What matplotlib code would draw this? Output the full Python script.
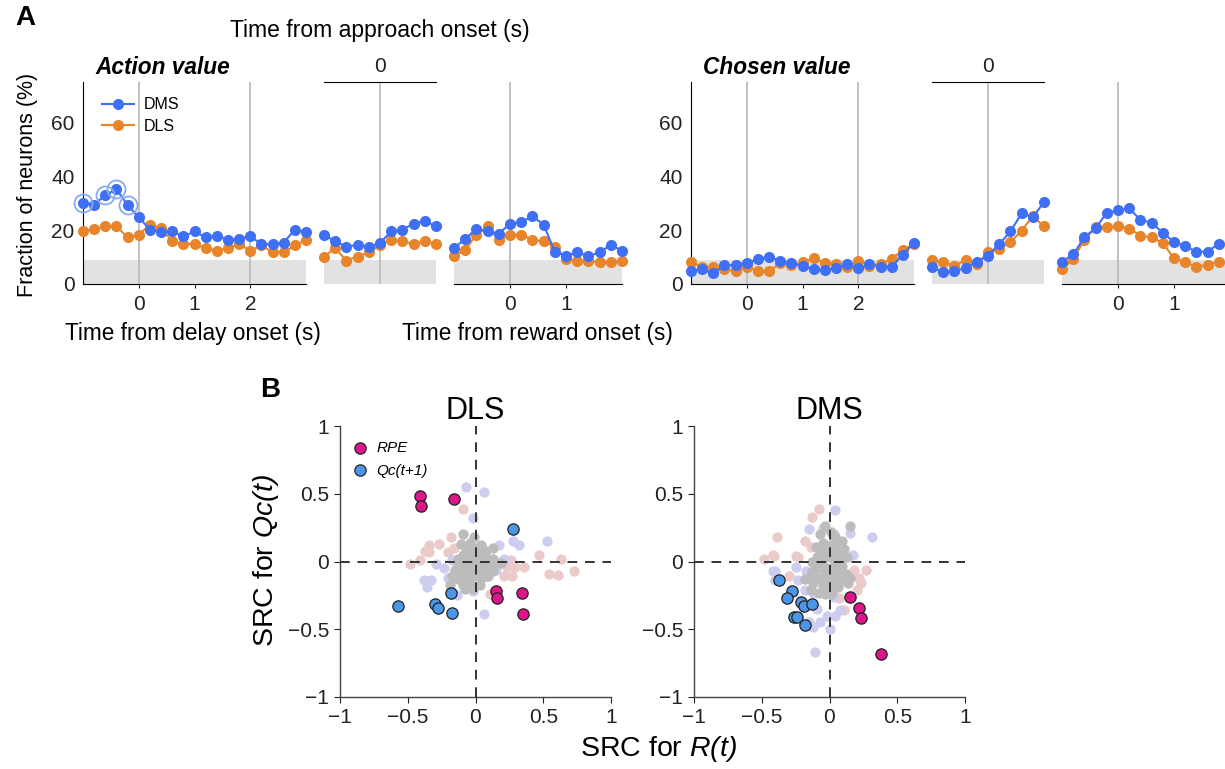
## Fraction of value-coding neurons (A) and SRC scatter (B)
import numpy as np
import matplotlib.pyplot as plt
from matplotlib.lines import Line2D

plt.rcParams['font.family'] = ['Liberation Sans', 'DejaVu Sans']
plt.rcParams['mathtext.fontset'] = 'custom'
plt.rcParams['mathtext.it'] = 'Liberation Sans:italic'
plt.rcParams['mathtext.rm'] = 'Liberation Sans:italic'
plt.rcParams['axes.unicode_minus'] = True

# ---------------- Panel A data (% of neurons) ----------------
t_delay = [-1.0, -0.8, -0.6, -0.4, -0.2, 0.0, 0.2, 0.4, 0.6, 0.8, 1.0,
           1.2, 1.4, 1.6, 1.8, 2.0, 2.2, 2.4, 2.6, 2.8, 3.0]
t_approach = [-1.0, -0.8, -0.6, -0.4, -0.2, 0.0, 0.2, 0.4, 0.6, 0.8, 1.0]
t_reward = [-1.0, -0.8, -0.6, -0.4, -0.2, 0.0, 0.2, 0.4, 0.6, 0.8, 1.0,
            1.2, 1.4, 1.6, 1.8, 2.0]

# Action value
av_delay_dms = [30.2, 29.5, 33.0, 35.2, 29.3, 24.8, 20.2, 19.2, 19.5, 17.7, 19.5,
                17.3, 18.0, 16.3, 16.8, 17.7, 14.8, 14.8, 15.4, 20.2, 19.2]
av_delay_dls = [19.5, 20.4, 21.4, 21.4, 17.3, 18.3, 22.0, 20.8, 15.8, 14.9, 14.9,
                13.3, 12.4, 13.3, 14.8, 12.4, 14.3, 11.8, 11.8, 14.3, 16.4]
av_delay_sig = [0, 2, 3, 4]  # bins with significant DMS-DLS difference
av_app_dms = [18.3, 15.8, 13.9, 14.5, 13.9, 15.2, 19.5, 20.2, 22.4, 23.3, 21.4]
av_app_dls = [10.2, 13.3, 8.7, 10.2, 11.7, 14.5, 16.4, 15.8, 14.9, 15.8, 14.9]
av_rew_dms = [13.3, 16.8, 20.4, 19.5, 18.7, 22.4, 22.9, 25.2, 22.0, 12.0, 10.4,
              11.7, 10.4, 11.7, 14.5, 12.4]
av_rew_dls = [10.4, 12.7, 18.3, 21.4, 16.4, 18.3, 18.3, 16.4, 15.8, 13.9, 9.3,
              8.7, 8.7, 8.0, 8.0, 8.7]

# Chosen value
cv_delay_dms = [4.9, 5.4, 3.9, 7.0, 7.0, 7.9, 9.2, 10.2, 8.5, 7.7, 6.7,
                5.4, 5.2, 5.8, 7.3, 5.8, 7.3, 6.4, 6.4, 10.8, 15.4]
cv_delay_dls = [8.0, 6.4, 6.2, 5.4, 4.8, 6.2, 4.9, 4.8, 7.7, 7.0, 8.0,
                9.5, 7.9, 7.4, 6.2, 8.7, 6.7, 7.4, 9.3, 12.7, 14.8]
cv_app_dms = [6.2, 4.3, 4.9, 5.8, 8.3, 10.5, 14.8, 19.5, 26.2, 24.8, 30.4]
cv_app_dls = [8.9, 8.0, 6.8, 8.9, 7.3, 11.8, 13.0, 15.5, 19.8, 25.2, 21.4]
cv_rew_dms = [8.3, 11.0, 17.3, 20.8, 26.4, 27.3, 28.1, 23.8, 22.8, 19.0, 15.6,
              14.0, 12.0, 12.0, 15.0]
cv_rew_dls = [5.5, 9.2, 16.4, 21.0, 21.0, 21.4, 20.6, 18.0, 17.3, 15.2, 9.5,
              8.2, 6.3, 7.2, 8.2]

chance = 9.0  # gray band

# ---------------- Panel B data (SRC values) ----------------
# DLS
dls_gray_x = [-0.09, -0.01, -0.04, -0.11, -0.07, 0.01, 0.04, 0.08, 0.13, -0.09, -0.03,
              0.03, 0.08, 0.13, -0.13, -0.10, -0.05, 0.00, 0.06, 0.11, 0.17, -0.15,
              -0.11, -0.05, 0.01, 0.07, 0.13, -0.17, -0.13, -0.07, -0.01, 0.04, 0.09,
              -0.19, -0.09, -0.03, 0.03, -0.08, -0.02, -0.13, -0.02, 0.03, -0.06, 0.08,
              0.19]
dls_gray_y = [0.20, 0.18, 0.14, 0.13, 0.10, 0.10, 0.12, 0.08, 0.10, 0.05, 0.04,
              0.03, 0.02, 0.02, 0.02, -0.01, -0.03, -0.02, -0.02, -0.03, -0.01, -0.06,
              -0.08, -0.07, -0.07, -0.07, -0.07, -0.11, -0.13, -0.12, -0.11, -0.12, -0.11,
              -0.17, -0.17, -0.17, -0.17, -0.20, -0.20, 0.00, 0.08, 0.07, 0.01, -0.11,
              -0.01]
dls_lav_x = [-0.07, 0.06, -0.02, 0.17, 0.28, 0.32, 0.53, 0.21, 0.15, -0.38, -0.33,
             -0.36, -0.17, -0.23, -0.29, -0.14, -0.02, 0.06, -0.20]
dls_lav_y = [0.55, 0.51, 0.32, 0.12, 0.15, 0.12, 0.15, 0.02, -0.06, -0.14, -0.14,
             -0.19, 0.01, -0.05, -0.02, -0.25, -0.22, -0.39, -0.12]
dls_pink_x = [-0.09, -0.18, -0.34, -0.27, -0.37, -0.34, -0.20, -0.16, -0.41, -0.48, 0.26,
              0.23, 0.29, 0.36, 0.47, 0.63, 0.54, 0.61, 0.73, 0.21, 0.27, 0.11]
dls_pink_y = [0.39, 0.18, 0.12, 0.13, 0.08, 0.07, 0.07, 0.10, 0.01, -0.02, 0.01,
              -0.04, -0.04, -0.04, 0.05, 0.02, -0.09, -0.10, -0.07, -0.11, -0.11, -0.24]
dls_rpe_x = [-0.41, -0.40, -0.16, 0.15, 0.16, 0.34, 0.35]
dls_rpe_y = [0.48, 0.41, 0.46, -0.22, -0.27, -0.23, -0.39]
dls_qc_x = [0.28, -0.57, -0.30, -0.28, -0.18, -0.17]
dls_qc_y = [0.24, -0.33, -0.31, -0.34, -0.23, -0.38]

# DMS
dms_gray_x = [0.15, -0.03, -0.07, 0.01, 0.04, -0.05, 0.00, 0.04, 0.09, -0.10, -0.05,
              0.01, 0.06, 0.11, -0.09, -0.04, 0.03, 0.08, 0.13, -0.13, -0.07, 0.04,
              0.09, -0.10, -0.04, 0.02, 0.07, 0.12, -0.14, -0.08, -0.02, 0.04, 0.09,
              -0.12, -0.05, 0.01, 0.06, -0.14, -0.08, -0.03, 0.02, 0.14, 0.15, -0.18,
              -0.13, -0.03, 0.00, 0.08]
dms_gray_y = [0.26, 0.26, 0.20, 0.22, 0.18, 0.14, 0.12, 0.13, 0.15, 0.11, 0.07,
              0.07, 0.08, 0.09, 0.03, 0.03, 0.03, 0.02, 0.03, 0.00, 0.00, -0.02,
              -0.03, -0.05, -0.07, -0.07, -0.08, -0.09, -0.10, -0.12, -0.12, -0.13, -0.14,
              -0.16, -0.18, -0.18, -0.19, -0.21, -0.23, -0.24, -0.24, -0.16, -0.12, -0.13,
              -0.08, -0.04, 0.03, 0.06]
dms_lav_x = [0.04, -0.15, -0.05, 0.03, 0.15, 0.31, 0.17, -0.25, -0.17, -0.42, -0.40,
             -0.40, -0.23, -0.18, -0.12, 0.00, 0.03, -0.09, -0.02, 0.04, 0.08, -0.12,
             -0.07, 0.00, -0.11, -0.15, -0.05]
dms_lav_y = [0.38, 0.24, 0.25, 0.20, 0.21, 0.18, 0.05, -0.04, -0.07, -0.07, -0.07,
             -0.14, -0.14, -0.21, -0.23, -0.24, -0.26, -0.35, -0.40, -0.40, -0.36, -0.48,
             -0.45, -0.50, -0.67, -0.45, -0.16]
dms_pink_x = [-0.08, -0.13, -0.39, -0.18, -0.14, -0.25, -0.23, -0.42, -0.41, -0.48, 0.18,
              0.27, 0.22, 0.23, 0.20, 0.07, -0.30, 0.11]
dms_pink_y = [0.39, 0.33, 0.18, 0.15, 0.11, 0.04, 0.03, 0.05, 0.04, 0.02, -0.06,
              -0.06, -0.12, -0.16, -0.21, -0.27, -0.11, -0.36]
dms_rpe_x = [0.15, 0.22, 0.23, 0.38]
dms_rpe_y = [-0.26, -0.34, -0.42, -0.68]
dms_qc_x = [-0.37, -0.28, -0.31, -0.21, -0.19, -0.13, -0.26, -0.24, -0.18]
dms_qc_y = [-0.135, -0.22, -0.27, -0.30, -0.33, -0.31, -0.41, -0.41, -0.47]

# ---------------- Colours ----------------
c_dms = '#3E6FF4'
c_dls = '#E8842A'
c_band = '#E2E2E2'
c_vline = '#BDBDBD'
c_mag = '#DD1689'
c_qc = '#4D95E6'
c_lav = '#CDCDF0'
c_pink = '#EBCACA'
c_gray = '#BCBCBC'

W, H = 1225, 769
fig = plt.figure(figsize=(W / 100, H / 100), dpi=100)


def add_ax(x0, x1, ytop, ybot):
    return fig.add_axes([x0 / W, 1 - ybot / H, (x1 - x0) / W, (ybot - ytop) / H])


MS = 8


def trace(ax, t, dms, dls, xmax, sig=None):
    ax.axhspan(0, chance, color=c_band, lw=0, zorder=0)
    ax.plot(t, dls, '-o', color=c_dls, ms=MS, lw=1.5, mew=0, clip_on=False, zorder=3)
    ax.plot(t, dms, '-o', color=c_dms, ms=MS, lw=1.5, mew=0, clip_on=False, zorder=4)
    if sig is not None:
        ax.plot([t[i] for i in sig], [dms[i] for i in sig], 'o', ms=13,
                mfc='none', mec='#86AAF6', mew=1.3, clip_on=False, zorder=5)
    ax.set_ylim(0, 75)
    ax.set_xlim(-1.0, xmax)
    for s in ax.spines.values():
        s.set_visible(False)
    ax.tick_params(labelsize=15, length=3, width=0.8, colors='#222222')
    ax.set_yticks([])


TOP, BOT = 82, 284
panels = [(0, 'Action value', av_delay_dms, av_delay_dls, av_app_dms, av_app_dls,
           t_reward, av_rew_dms, av_rew_dls),
          (608, 'Chosen value', cv_delay_dms, cv_delay_dls, cv_app_dms, cv_app_dls,
           t_reward[:15], cv_rew_dms, cv_rew_dls)]
for off, title, d_dms, d_dls, a_dms, a_dls, t_r, r_dms, r_dls in panels:
    # delay
    ax1 = add_ax(83 + off, 306 + off, TOP, BOT)
    trace(ax1, t_delay, d_dms, d_dls, 3.0, av_delay_sig if off == 0 else None)
    for v in [0, 2]:
        ax1.axvline(v, color=c_vline, lw=1.3, zorder=1)
    ax1.spines['left'].set_visible(True)
    ax1.spines['bottom'].set_visible(True)
    ax1.set_yticks([0, 20, 40, 60])
    ax1.tick_params(axis='y', length=0, pad=6)
    ax1.set_xticks([0, 1, 2])
    ax1.tick_params(axis='x', pad=5)

    # approach
    ax2 = add_ax(324 + off, 436 + off, TOP, BOT)
    trace(ax2, t_approach, a_dms, a_dls, 1.0)
    ax2.axvline(0, color=c_vline, lw=1.3, zorder=1)
    ax2.spines['top'].set_visible(True)
    ax2.xaxis.tick_top()
    ax2.set_xticks([0])
    ax2.tick_params(axis='x', length=0, pad=4)

    # reward
    ax3 = add_ax(454 + off, 622 + off, TOP, BOT)
    trace(ax3, t_r, r_dms, r_dls, 2.0)
    ax3.axvline(0, color=c_vline, lw=1.3, zorder=1)
    ax3.spines['bottom'].set_visible(True)
    ax3.set_xticks([0, 1])
    ax3.tick_params(axis='x', pad=5)

    fig.text((95 + off) / W, 1 - 67 / H, title, fontsize=16.3, fontweight='bold',
             fontstyle='italic', va='center', ha='left')

    if off == 0:
        ax1.legend(handles=[Line2D([], [], color=c_dms, marker='o', ms=MS, lw=1.5, mew=0),
                            Line2D([], [], color=c_dls, marker='o', ms=MS, lw=1.5, mew=0)],
                   labels=['DMS', 'DLS'], loc='upper left', bbox_to_anchor=(0.02, 0.995),
                   frameon=False, fontsize=11.5, handlelength=2.0, handletextpad=0.6,
                   labelspacing=0.4)

fig.text(25 / W, 1 - 18 / H, 'A', fontsize=20, fontweight='bold', ha='center', va='center')
fig.text(380 / W, 1 - 30 / H, 'Time from approach onset (s)', fontsize=16.5, ha='center', va='center')
fig.text(193 / W, 1 - 333 / H, 'Time from delay onset (s)', fontsize=16.3, ha='center', va='center')
fig.text(537 / W, 1 - 333 / H, 'Time from reward onset (s)', fontsize=16.3, ha='center', va='center')
fig.text(28 / W, 1 - 185 / H, 'Fraction of neurons (%)', fontsize=15.5, rotation=90,
         ha='center', va='center')

# ---------------- Panel B ----------------
for x0, name, g, lv, pk, rp, qc in [
        (340, 'DLS', (dls_gray_x, dls_gray_y), (dls_lav_x, dls_lav_y), (dls_pink_x, dls_pink_y),
         (dls_rpe_x, dls_rpe_y), (dls_qc_x, dls_qc_y)),
        (694, 'DMS', (dms_gray_x, dms_gray_y), (dms_lav_x, dms_lav_y), (dms_pink_x, dms_pink_y),
         (dms_rpe_x, dms_rpe_y), (dms_qc_x, dms_qc_y))]:
    ax = add_ax(x0, x0 + 271, 426, 697)
    ax.scatter(pk[0], pk[1], s=55, color=c_pink, lw=0, zorder=2)
    ax.scatter(lv[0], lv[1], s=55, color=c_lav, lw=0, zorder=2)
    ax.scatter(g[0], g[1], s=55, color=c_gray, lw=0, zorder=3)
    ax.axhline(0, color='#333333', lw=1.4, ls=(0, (5, 4)), zorder=4)
    ax.axvline(0, color='#333333', lw=1.4, ls=(0, (5, 4)), zorder=4)
    h1 = ax.scatter(rp[0], rp[1], s=66, color=c_mag, edgecolor='#222222', lw=0.9, zorder=5)
    h2 = ax.scatter(qc[0], qc[1], s=66, color=c_qc, edgecolor='#222222', lw=0.9, zorder=5)
    ax.set_xlim(-1, 1)
    ax.set_ylim(-1, 1)
    ax.set_xticks([-1, -0.5, 0, 0.5, 1])
    ax.set_yticks([-1, -0.5, 0, 0.5, 1])
    ax.set_xticklabels(['\u22121', '\u22120.5', '0', '0.5', '1'])
    ax.set_yticklabels(['\u22121', '\u22120.5', '0', '0.5', '1'])
    ax.spines['top'].set_visible(False)
    ax.spines['right'].set_visible(False)
    for s in ['left', 'bottom']:
        ax.spines[s].set_color('#444444')
        ax.spines[s].set_linewidth(1.0)
    ax.tick_params(labelsize=15, length=4, width=0.8, colors='#222222', pad=4)
    ax.set_title(name, fontsize=22, pad=2)
    if name == 'DLS':
        ax.legend([h1, h2], ['RPE', 'Qc(t+1)'], loc='upper left', bbox_to_anchor=(-0.035, 0.995),
                  frameon=False, prop={'size': 11, 'style': 'italic'}, handletextpad=0.1,
                  labelspacing=0.55, scatterpoints=1)

fig.text(266 / W, 1 - 561 / H, 'SRC for $Qc(t)$', fontsize=20.5, rotation=90,
         ha='center', va='center')
fig.text(270 / W, 1 - 390 / H, 'B', fontsize=20, fontweight='bold', ha='center', va='center')
fig.text(659 / W, 1 - 749 / H, 'SRC for $R(t)$', fontsize=20.5, ha='center', va='center')

plt.savefig('out.png', dpi=100)
